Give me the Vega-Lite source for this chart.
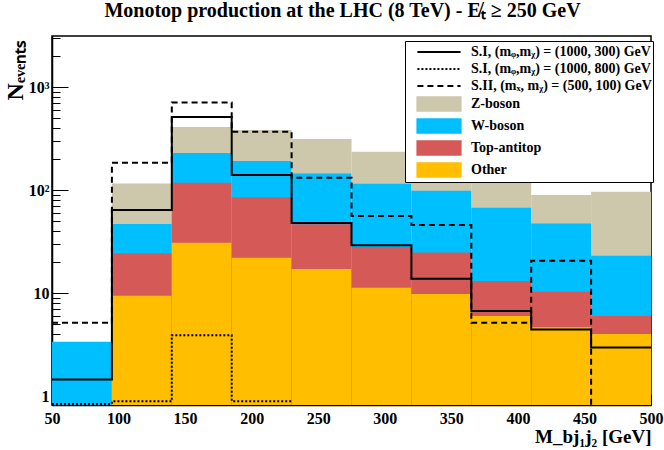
{
  "$schema": "https://vega.github.io/schema/vega-lite/v6.json",
  "description": "Monotop production at the LHC, stacked backgrounds and signal outlines",
  "width": 599,
  "height": 369,
  "autosize": {"type": "none"},
  "padding": {"left": 52, "top": 36, "right": 13, "bottom": 45},
  "title": {
    "text": "Monotop production at the LHC (8 TeV) - E̸ₜ ≥ 250 GeV",
    "font": "Liberation Serif",
    "fontSize": 20,
    "fontWeight": "bold",
    "color": "black",
    "anchor": "middle",
    "offset": 9,
    "dx": -9
  },
  "datasets": {
    "bkg": [
      {"lo": 50, "hi": 95, "series": "W-boson", "top": 3.37},
      {"lo": 95, "hi": 140, "series": "Z-boson", "top": 116},
      {"lo": 95, "hi": 140, "series": "W-boson", "top": 46.8},
      {"lo": 95, "hi": 140, "series": "Top-antitop", "top": 24.3},
      {"lo": 95, "hi": 140, "series": "Other", "top": 9.4},
      {"lo": 140, "hi": 185, "series": "Z-boson", "top": 409},
      {"lo": 140, "hi": 185, "series": "W-boson", "top": 229},
      {"lo": 140, "hi": 185, "series": "Top-antitop", "top": 118},
      {"lo": 140, "hi": 185, "series": "Other", "top": 30.8},
      {"lo": 185, "hi": 230, "series": "Z-boson", "top": 383},
      {"lo": 185, "hi": 230, "series": "W-boson", "top": 191},
      {"lo": 185, "hi": 230, "series": "Top-antitop", "top": 85},
      {"lo": 185, "hi": 230, "series": "Other", "top": 22},
      {"lo": 230, "hi": 275, "series": "Z-boson", "top": 313},
      {"lo": 230, "hi": 275, "series": "W-boson", "top": 145},
      {"lo": 230, "hi": 275, "series": "Top-antitop", "top": 46.5},
      {"lo": 230, "hi": 275, "series": "Other", "top": 17.1},
      {"lo": 275, "hi": 320, "series": "Z-boson", "top": 235},
      {"lo": 275, "hi": 320, "series": "W-boson", "top": 115},
      {"lo": 275, "hi": 320, "series": "Top-antitop", "top": 28},
      {"lo": 275, "hi": 320, "series": "Other", "top": 11.3},
      {"lo": 320, "hi": 365, "series": "Z-boson", "top": 160},
      {"lo": 320, "hi": 365, "series": "W-boson", "top": 98.5},
      {"lo": 320, "hi": 365, "series": "Top-antitop", "top": 24.8},
      {"lo": 320, "hi": 365, "series": "Other", "top": 9.8},
      {"lo": 365, "hi": 410, "series": "Z-boson", "top": 130},
      {"lo": 365, "hi": 410, "series": "W-boson", "top": 67.3},
      {"lo": 365, "hi": 410, "series": "Top-antitop", "top": 13.1},
      {"lo": 365, "hi": 410, "series": "Other", "top": 6.0},
      {"lo": 410, "hi": 455, "series": "Z-boson", "top": 89.4},
      {"lo": 410, "hi": 455, "series": "W-boson", "top": 47.5},
      {"lo": 410, "hi": 455, "series": "Top-antitop", "top": 10.3},
      {"lo": 410, "hi": 455, "series": "Other", "top": 4.65},
      {"lo": 455, "hi": 500, "series": "Z-boson", "top": 96.3},
      {"lo": 455, "hi": 500, "series": "W-boson", "top": 23},
      {"lo": 455, "hi": 500, "series": "Top-antitop", "top": 6.0},
      {"lo": 455, "hi": 500, "series": "Other", "top": 4.0}
    ],
    "sig": [
      {"edge": 50, "series": "S.I, (mᵩ,mᵪ) = (1000, 300) GeV", "n": 1.45},
      {"edge": 95, "series": "S.I, (mᵩ,mᵪ) = (1000, 300) GeV", "n": 64},
      {"edge": 140, "series": "S.I, (mᵩ,mᵪ) = (1000, 300) GeV", "n": 511},
      {"edge": 185, "series": "S.I, (mᵩ,mᵪ) = (1000, 300) GeV", "n": 140},
      {"edge": 230, "series": "S.I, (mᵩ,mᵪ) = (1000, 300) GeV", "n": 47.8},
      {"edge": 275, "series": "S.I, (mᵩ,mᵪ) = (1000, 300) GeV", "n": 29.2},
      {"edge": 320, "series": "S.I, (mᵩ,mᵪ) = (1000, 300) GeV", "n": 13.8},
      {"edge": 365, "series": "S.I, (mᵩ,mᵪ) = (1000, 300) GeV", "n": 6.7},
      {"edge": 410, "series": "S.I, (mᵩ,mᵪ) = (1000, 300) GeV", "n": 4.44},
      {"edge": 455, "series": "S.I, (mᵩ,mᵪ) = (1000, 300) GeV", "n": 2.97},
      {"edge": 500, "series": "S.I, (mᵩ,mᵪ) = (1000, 300) GeV", "n": 2.97},
      {"edge": 50, "series": "S.I, (mᵩ,mᵪ) = (1000, 800) GeV", "n": 0.84},
      {"edge": 95, "series": "S.I, (mᵩ,mᵪ) = (1000, 800) GeV", "n": 0.89},
      {"edge": 140, "series": "S.I, (mᵩ,mᵪ) = (1000, 800) GeV", "n": 3.9},
      {"edge": 185, "series": "S.I, (mᵩ,mᵪ) = (1000, 800) GeV", "n": 0.89},
      {"edge": 230, "series": "S.I, (mᵩ,mᵪ) = (1000, 800) GeV", "n": 0.89},
      {"edge": 50, "series": "S.II, (mₓ, mᵪ) = (500, 100) GeV", "n": 5.15},
      {"edge": 95, "series": "S.II, (mₓ, mᵪ) = (500, 100) GeV", "n": 184},
      {"edge": 140, "series": "S.II, (mₓ, mᵪ) = (500, 100) GeV", "n": 710},
      {"edge": 185, "series": "S.II, (mₓ, mᵪ) = (500, 100) GeV", "n": 368},
      {"edge": 230, "series": "S.II, (mₓ, mᵪ) = (500, 100) GeV", "n": 132},
      {"edge": 275, "series": "S.II, (mₓ, mᵪ) = (500, 100) GeV", "n": 56},
      {"edge": 320, "series": "S.II, (mₓ, mᵪ) = (500, 100) GeV", "n": 45.7},
      {"edge": 365, "series": "S.II, (mₓ, mᵪ) = (500, 100) GeV", "n": 5.15},
      {"edge": 410, "series": "S.II, (mₓ, mᵪ) = (500, 100) GeV", "n": 20.6},
      {"edge": 455, "series": "S.II, (mₓ, mᵪ) = (500, 100) GeV", "n": 0.5},
      {"edge": 500, "series": "S.II, (mₓ, mᵪ) = (500, 100) GeV", "n": 0.5}
    ]
  },
  "layer": [
    {
      "data": {"name": "bkg"},
      "mark": {"type": "rect", "clip": true, "strokeWidth": 0},
      "encoding": {
        "x": {
          "field": "lo",
          "type": "quantitative",
          "scale": {"domain": [50, 500], "nice": false, "zero": false},
          "axis": {
            "values": [50, 60, 70, 80, 90, 100, 110, 120, 130, 140, 150, 160, 170, 180, 190, 200, 210, 220, 230, 240, 250, 260, 270, 280, 290, 300, 310, 320, 330, 340, 350, 360, 370, 380, 390, 400, 410, 420, 430, 440, 450, 460, 470, 480, 490, 500],
            "tickCount": 100,
            "labelExpr": "datum.value % 50 == 0 ? datum.label : ''",
            "labelOverlap": false,
            "labelFlush": false,
            "tickSize": {"condition": {"test": "datum.value % 50 == 0", "value": -11}, "value": -6},
            "labelPadding": 16,
            "title": "M_bj₁j₂ [GeV]",
            "titleAnchor": "end",
            "titleAlign": "right",
            "titleBaseline": "alphabetic",
            "titleX": 599,
            "titleY": 37,
            "titleFontSize": 19
          }
        },
        "x2": {"field": "hi"},
        "y": {
          "field": "top",
          "type": "quantitative",
          "scale": {"type": "log", "domain": [0.82, 3130], "nice": false},
          "axis": {
            "values": [1, 2, 3, 4, 5, 6, 7, 8, 9, 10, 20, 30, 40, 50, 60, 70, 80, 90, 100, 200, 300, 400, 500, 600, 700, 800, 900, 1000, 2000, 3000],
            "tickCount": 100,
            "labelExpr": "datum.value == 1 ? '1' : datum.value == 10 ? '10' : datum.value == 100 ? '10²' : datum.value == 1000 ? '10³' : ''",
            "labelOverlap": false,
            "tickSize": {"condition": {"test": "datum.value == 1 || datum.value == 10 || datum.value == 100 || datum.value == 1000", "value": -16}, "value": -8},
            "labelPadding": 19,
            "title": "Nₑᵥₑₙₜₛ",
            "titleAngle": -90,
            "titleAlign": "right",
            "titleBaseline": "middle",
            "titleX": -37,
            "titleY": 4,
            "titleFontSize": 24
          }
        },
        "y2": {"value": "height"},
        "color": {
          "field": "series",
          "type": "nominal",
          "scale": {
            "domain": ["S.I, (mᵩ,mᵪ) = (1000, 300) GeV", "S.I, (mᵩ,mᵪ) = (1000, 800) GeV", "S.II, (mₓ, mᵪ) = (500, 100) GeV", "Z-boson", "W-boson", "Top-antitop", "Other"],
            "range": ["black", "black", "black", "#cdc7ab", "#00bfff", "#d55a57", "#ffbe00"]
          },
          "legend": {
            "title": null,
            "orient": "none",
            "legendX": 353,
            "legendY": 5,
            "fillColor": "white",
            "strokeColor": "black",
            "padding": 1,
            "rowPadding": 0,
            "symbolSize": 324,
            "symbolOffset": 23,
            "labelOffset": 22,
            "labelFont": "Liberation Serif",
            "labelFontWeight": "bold",
            "labelFontSize": 14,
            "labelColor": "black",
            "labelLimit": 400,
            "encode": {
              "symbols": {
                "update": {
                  "shape": {"signal": "datum.index < 3 ? 'M-2.4,0H2.4' : 'M-2.4,-0.74H2.4V0.74H-2.4Z'"},
                  "fill": {"signal": "['transparent','transparent','transparent','#cdc7ab','#00bfff','#d55a57','#ffbe00'][datum.index]"},
                  "stroke": {"signal": "datum.index < 3 ? 'black' : 'transparent'"},
                  "strokeWidth": {"value": 2},
                  "strokeDash": {"signal": "datum.index == 1 ? [2, 2] : datum.index == 2 ? [6, 4] : [1, 0]"},
                  "opacity": {"value": 1}
                }
              }
            }
          }
        }
      }
    },
    {
      "data": {"name": "sig"},
      "mark": {"type": "line", "interpolate": "step-after", "strokeWidth": 2, "clip": true},
      "encoding": {
        "x": {"field": "edge", "type": "quantitative"},
        "y": {"field": "n", "type": "quantitative"},
        "color": {"field": "series", "type": "nominal"},
        "strokeDash": {
          "field": "series",
          "type": "nominal",
          "scale": {
            "domain": ["S.I, (mᵩ,mᵪ) = (1000, 300) GeV", "S.I, (mᵩ,mᵪ) = (1000, 800) GeV", "S.II, (mₓ, mᵪ) = (500, 100) GeV"],
            "range": [[1, 0], [2, 2], [6, 4]]
          },
          "legend": null
        }
      }
    }
  ],
  "config": {
    "view": {"stroke": "black", "strokeWidth": 1.5},
    "axis": {
      "grid": false,
      "labelOverlap": false,
      "domainColor": "black",
      "domainWidth": 1.5,
      "tickColor": "black",
      "tickWidth": 1,
      "labelColor": "black",
      "labelFont": "Liberation Serif",
      "labelFontWeight": "bold",
      "labelFontSize": 16,
      "titleColor": "black",
      "titleFont": "Liberation Serif",
      "titleFontWeight": "bold"
    }
  }
}
